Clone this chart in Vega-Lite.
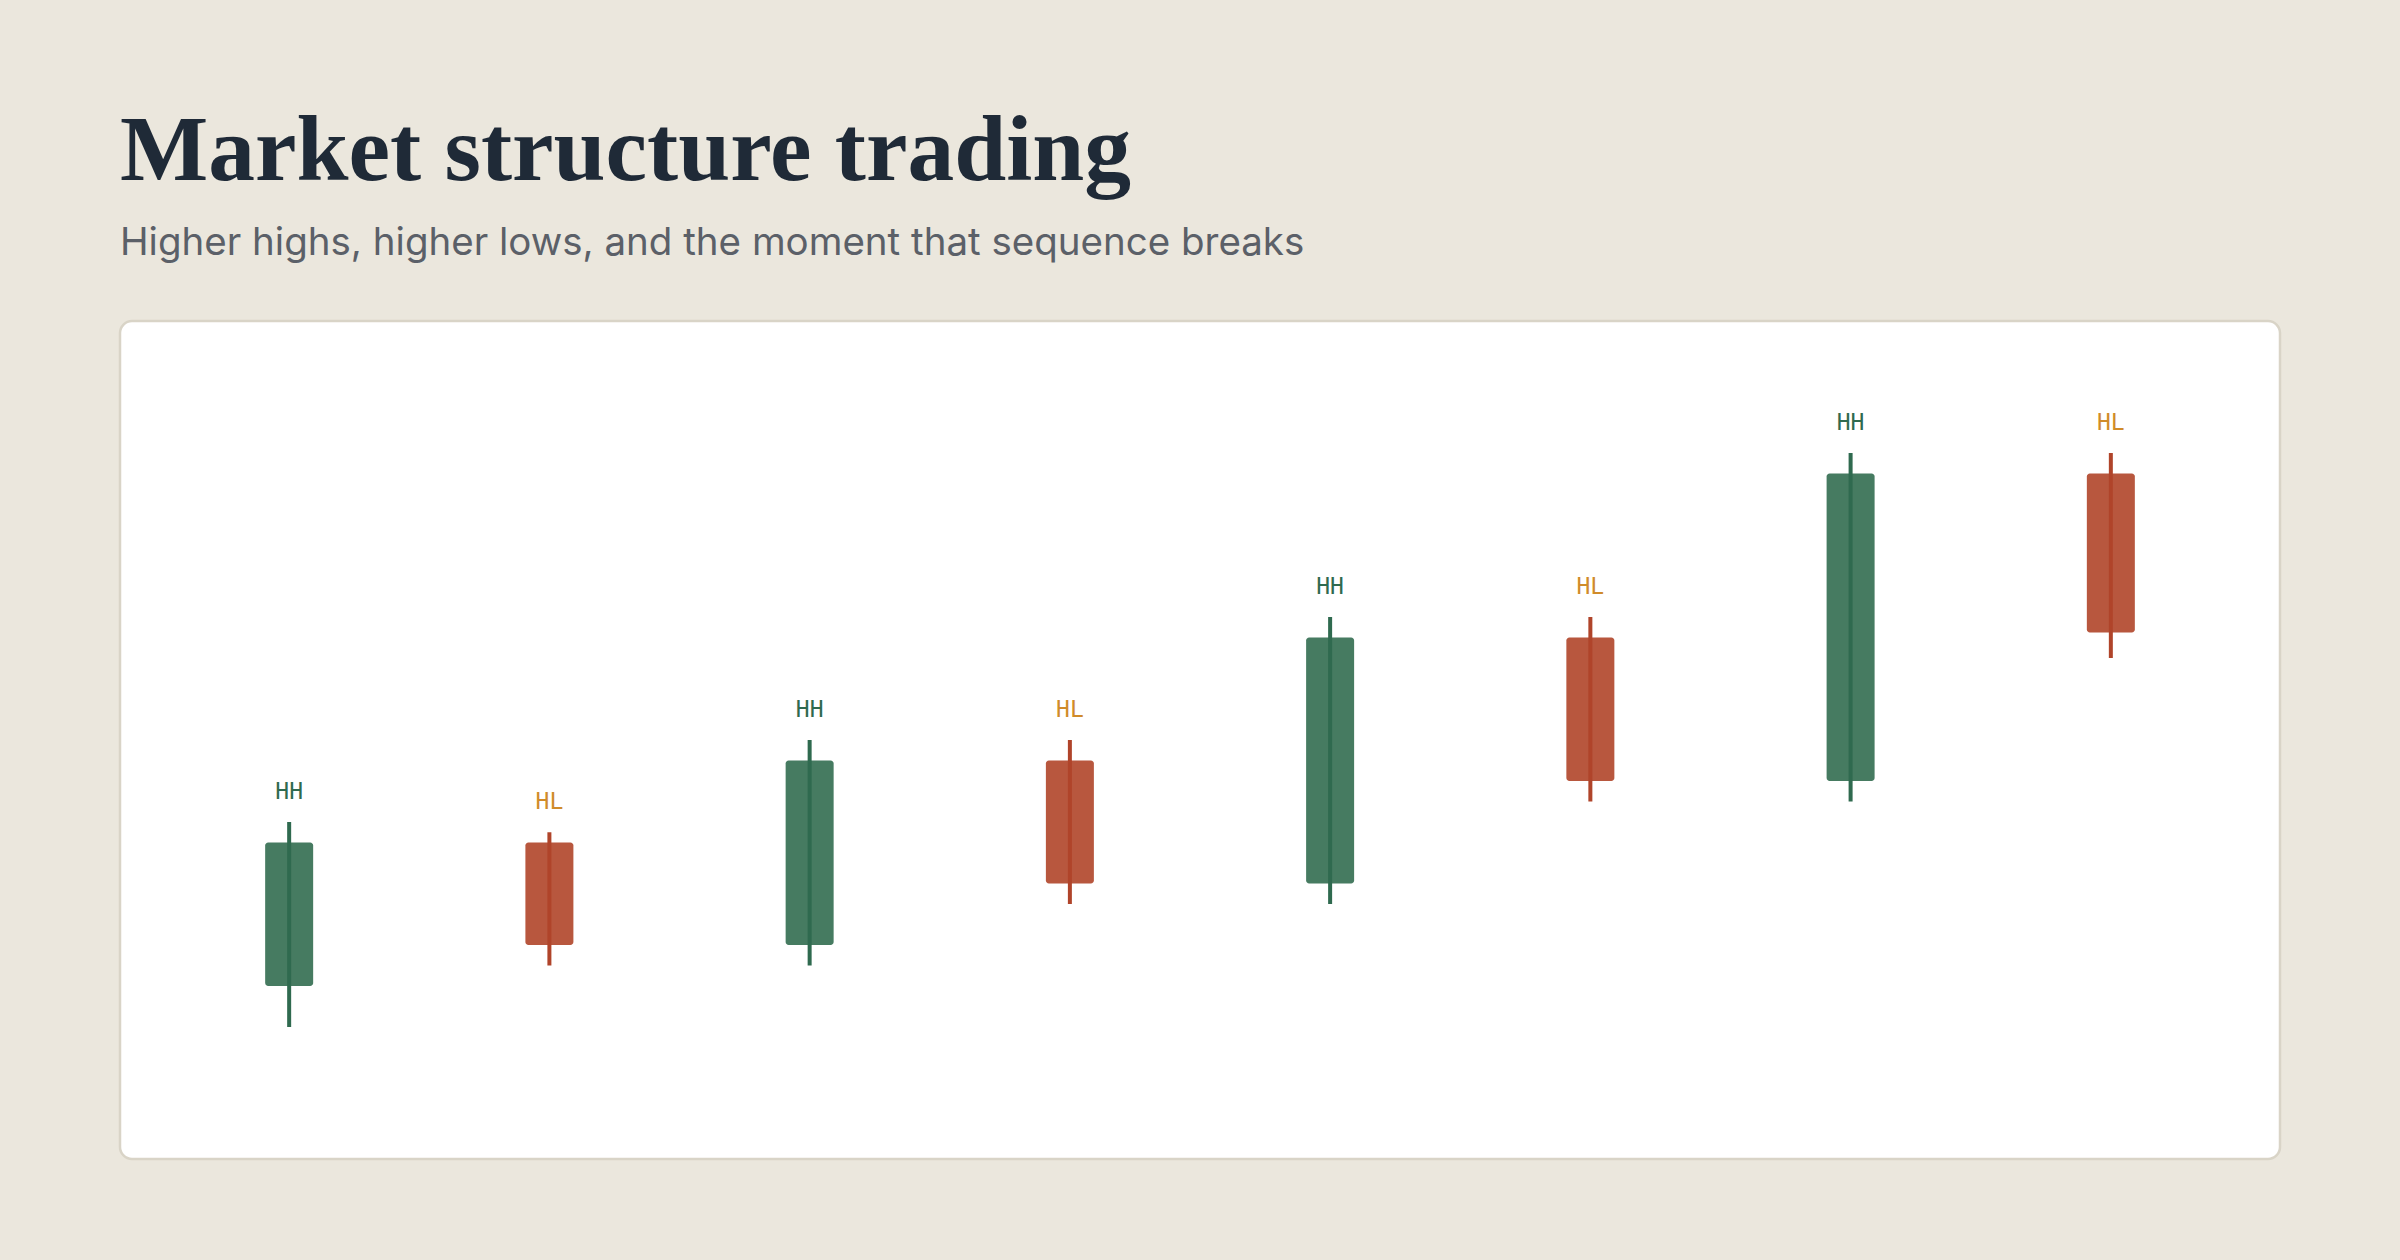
{
  "$schema": "https://vega.github.io/schema/vega-lite/v6.json",
  "autosize": {"type": "none"},
  "width": 2160,
  "height": 838,
  "padding": {"left": 120, "top": 321, "right": 120, "bottom": 101},
  "background": "#ebe7dd",
  "config": {
    "view": {"fill": "#ffffff", "stroke": "#d9d4c7", "strokeWidth": 2.5, "cornerRadius": 12}
  },
  "title": {
    "text": "Market structure trading",
    "subtitle": "Higher highs, higher lows, and the moment that sequence breaks",
    "anchor": "start",
    "frame": "group",
    "font": "Liberation Serif",
    "fontSize": 93.5,
    "fontWeight": "bold",
    "color": "#1f2a37",
    "subtitleFont": "Inter",
    "subtitleFontSize": 38.5,
    "subtitleColor": "#5b6068",
    "subtitlePadding": 25,
    "offset": 58
  },
  "data": {
    "values": [
      {"i": "C1", "open": 100, "close": 107, "high": 108, "low": 98, "dir": "up", "label": "HH"},
      {"i": "C2", "open": 107, "close": 102, "high": 107.5, "low": 101, "dir": "down", "label": "HL"},
      {"i": "C3", "open": 102, "close": 111, "high": 112, "low": 101, "dir": "up", "label": "HH"},
      {"i": "C4", "open": 111, "close": 105, "high": 112, "low": 104, "dir": "down", "label": "HL"},
      {"i": "C5", "open": 105, "close": 117, "high": 118, "low": 104, "dir": "up", "label": "HH"},
      {"i": "C6", "open": 117, "close": 110, "high": 118, "low": 109, "dir": "down", "label": "HL"},
      {"i": "C7", "open": 110, "close": 125, "high": 126, "low": 109, "dir": "up", "label": "HH"},
      {"i": "C8", "open": 125, "close": 117.25, "high": 126, "low": 116, "dir": "down", "label": "HL"}
    ]
  },
  "encoding": {
    "x": {
      "field": "i",
      "type": "ordinal",
      "sort": null,
      "axis": null,
      "scale": {"type": "band", "paddingInner": 0, "paddingOuter": 0.15}
    }
  },
  "layer": [
    {
      "mark": {"type": "bar", "width": 48, "cornerRadius": 3},
      "encoding": {
        "y": {"field": "open", "type": "quantitative", "axis": null, "scale": {"domain": [91.56, 132.44], "nice": false, "zero": false}},
        "y2": {"field": "close"},
        "color": {"field": "dir", "type": "nominal", "legend": null, "scale": {"domain": ["up", "down"], "range": ["#467b61", "#b8573e"]}}
      }
    },
    {
      "mark": {"type": "rule", "strokeWidth": 4},
      "encoding": {
        "y": {"field": "low", "type": "quantitative", "axis": null},
        "y2": {"field": "high"},
        "color": {"field": "dir", "type": "nominal", "legend": null, "scale": {"domain": ["up", "down"], "range": ["#2f6a4f", "#b0442a"]}}
      }
    },
    {
      "mark": {"type": "text", "font": "DejaVu Sans Mono", "fontSize": 23, "fontWeight": "normal", "strokeWidth": 0.6, "baseline": "alphabetic", "align": "center", "dy": -23},
      "encoding": {
        "y": {"field": "high", "type": "quantitative", "axis": null},
        "text": {"field": "label"},
        "color": {"field": "dir", "type": "nominal", "legend": null, "scale": {"domain": ["up", "down"], "range": ["#2f6a4f", "#d08b2a"]}}
      }
    }
  ],
  "resolve": {"scale": {"color": "independent"}}
}
